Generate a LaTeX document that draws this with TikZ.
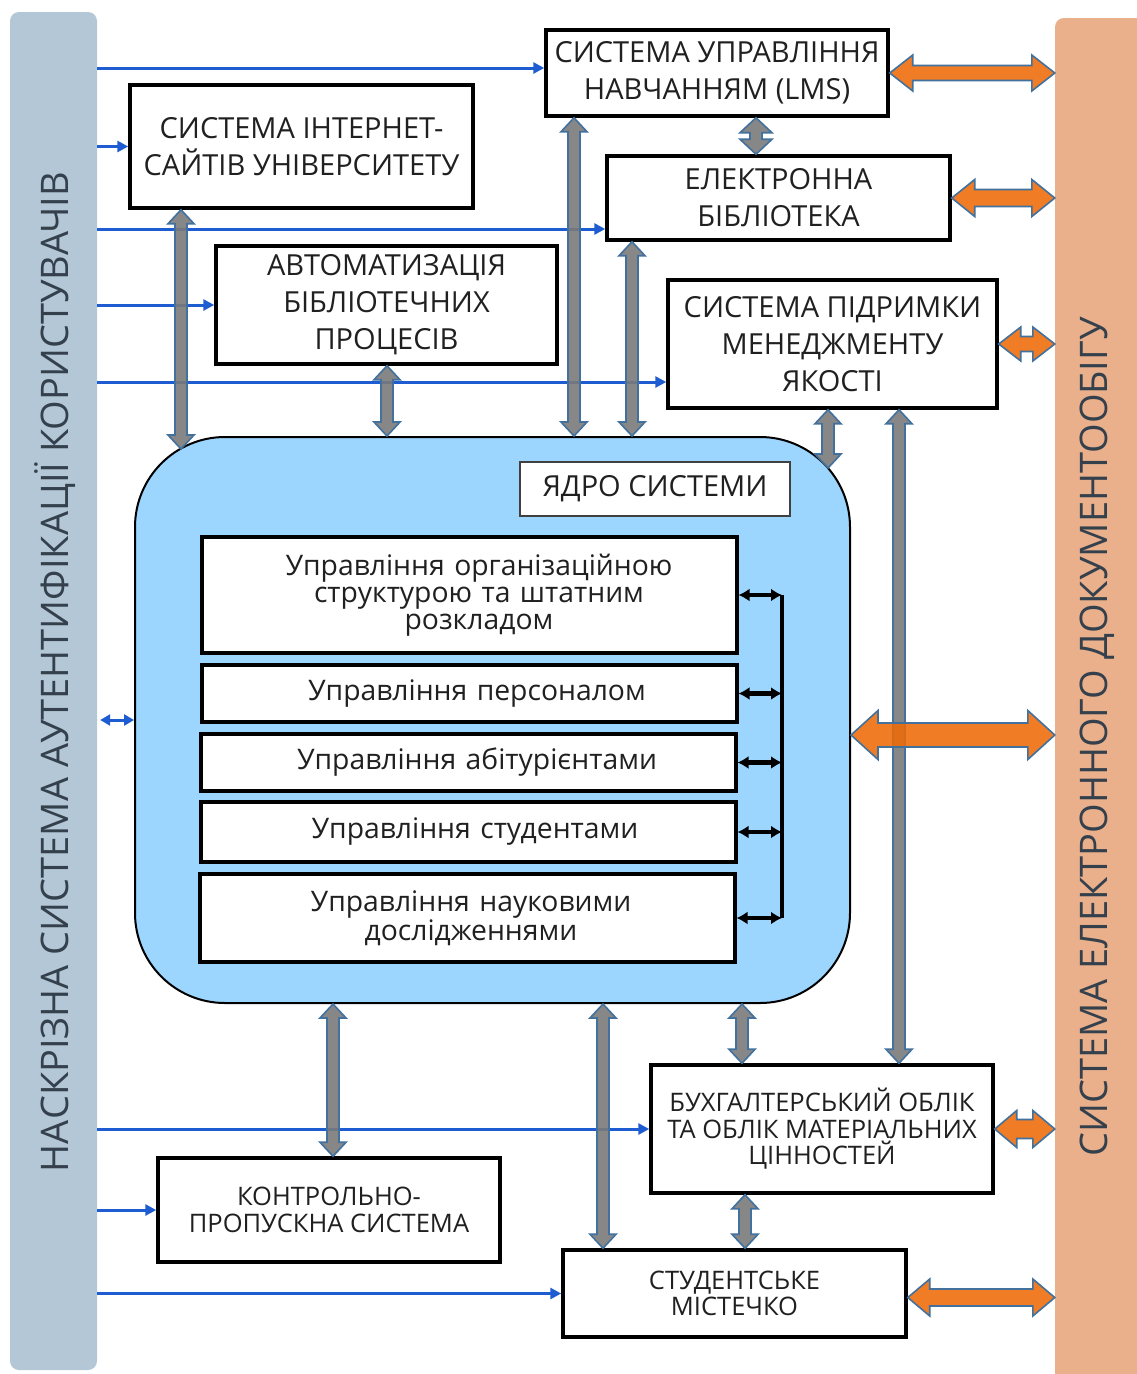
\documentclass[tikz,border=0pt]{standalone}
\usepackage{fontspec}
\setmainfont{Open Sans}
\usetikzlibrary{arrows.meta,calc}

\definecolor{authbar}{HTML}{B4C7D6}
\definecolor{docbar}{HTML}{E9B08B}
\definecolor{corefill}{HTML}{9CD5FD}
\definecolor{linkblue}{HTML}{1E5CD2}
\definecolor{blockgray}{HTML}{7A7A7A}
\definecolor{blockedge}{HTML}{41719C}
\definecolor{blockorange}{HTML}{EE6A08}
\definecolor{bartext}{HTML}{34404C}
\definecolor{boxtext}{HTML}{202020}

% vertical block double arrow: [style]{top point}{bottom point}{shaft half}{head half}{head length}
\newcommand\vblock[6][]{%
  \path[#1] let \p1=(#2), \p2=(#3) in
    (\x1,\y1) -- (\x1+#5,\y1-#6) -- (\x1+#4,\y1-#6) -- (\x1+#4,\y2+#6)
    -- (\x1+#5,\y2+#6) -- (\x1,\y2) -- (\x1-#5,\y2+#6) -- (\x1-#4,\y2+#6)
    -- (\x1-#4,\y1-#6) -- (\x1-#5,\y1-#6) -- cycle;}
% horizontal block double arrow: [style]{left point}{right point}{shaft half}{head half}{head length}
\newcommand\hblock[6][]{%
  \path[#1] let \p1=(#2), \p2=(#3) in
    (\x1,\y1) -- (\x1+#6,\y1+#5) -- (\x1+#6,\y1+#4) -- (\x2-#6,\y1+#4)
    -- (\x2-#6,\y1+#5) -- (\x2,\y1) -- (\x2-#6,\y1-#5) -- (\x2-#6,\y1-#4)
    -- (\x1+#6,\y1-#4) -- (\x1+#6,\y1-#5) -- cycle;}

\begin{document}
\begin{tikzpicture}[x=1pt,y=-1pt,
  sidebar/.style={rounded corners=9pt, inner sep=0pt},
  barlabel/.style={rotate=90, text=bartext, font=\fontsize{38}{44}\selectfont},
  box/.style={draw=black, line width=3.5pt, fill=white, align=center, inner sep=0pt, text=boxtext},
  capsA/.style={font=\fontsize{29}{37}\selectfont},
  capsB/.style={font=\fontsize{25.5}{26.5}\selectfont},
  modtext/.style={font=\fontsize{28.3}{27}\selectfont},
  modbox/.style={box, line width=4pt, minimum width=535, text width=520},
  nudge/.style={execute at begin node={\leftskip=#1 plus 1fil\rightskip=0pt plus 1fil\parfillskip=0pt}},
  link/.style={draw=linkblue, line width=3pt, -{Triangle[length=11pt,width=11pt]}},
  linkboth/.style={draw=linkblue, line width=3pt, {Triangle[length=10pt,width=11pt]}-{Triangle[length=10pt,width=11pt]}},
  bus/.style={draw=black, line width=4.5pt},
  busarrow/.style={draw=black, line width=4.5pt, {Latex[length=11pt,width=13pt]}-{Latex[length=11pt,width=13pt]}},
  grayblock/.style={fill=blockgray, fill opacity=0.9, draw=blockedge, draw opacity=1, line width=1.6pt},
  orangeblock/.style={fill=blockorange, fill opacity=0.88, draw=blockedge, line width=1.6pt},
]
\useasboundingbox (0,0) rectangle (1137,1374);
\fill[white] (0,0) rectangle (1137,1374);

% side bars
\node[sidebar, fill=authbar, minimum width=87, minimum height=1358] (auth) at (53.5,691) {};
\node[barlabel] (authlabel) at (55,672) {НАСКРІЗНА СИСТЕМА АУТЕНТИФІКАЦІЇ КОРИСТУВАЧІВ};
\node[sidebar, fill=docbar, minimum width=92, minimum height=1370] (docs) at (1101,703) {};
\node[barlabel] (docslabel) at (1097,737) {СИСТЕМА ЕЛЕКТРОННОГО ДОКУМЕНТООБІГУ};

% system core
\node[draw=black, line width=2pt, fill=corefill, rounded corners=90pt,
      minimum width=715, minimum height=566, inner sep=0pt] (core) at (492.5,720) {};
\node[box, line width=2pt, draw=black!75, capsA, minimum width=270, minimum height=54] (yadro) at (655,489) {ЯДРО СИСТЕМИ};

\node[modbox, modtext, nudge=20pt, minimum height=116] (org)  at (469,595)   {Управління організаційною\\структурою та штатним\\розкладом};
\node[modbox, modtext, nudge=16pt, minimum height=57]  (pers) at (469,693.5) {Управління персоналом};
\node[modbox, modtext, nudge=18pt, minimum height=57]  (abit) at (468,762.5) {Управління абітурієнтами};
\node[modbox, modtext, nudge=14pt, minimum height=60]  (stud) at (468,832)   {Управління студентами};
\node[modbox, modtext, nudge=8pt,  minimum height=88]  (nauk) at (467,918)   {Управління науковими\\дослідженнями};

% bus joining the core modules
\coordinate (busx) at (782,0);
\draw[bus] (org.east -| busx) -- (nauk.east -| busx);
\foreach \m in {org,pers,abit,stud,nauk}
  \draw[busarrow] (\m.east) -- (\m.east -| busx);

% subsystems
\node[box, capsA, minimum width=342, minimum height=86]  (lms)  at (717,73)    {СИСТЕМА УПРАВЛІННЯ\\НАВЧАННЯМ (LMS)};
\node[box, capsA, minimum width=343, minimum height=123] (inet) at (301.5,146.5) {СИСТЕМА ІНТЕРНЕТ-\\САЙТІВ УНІВЕРСИТЕТУ};
\node[box, capsA, minimum width=343, minimum height=84]  (elib) at (778.5,198) {ЕЛЕКТРОННА\\БІБЛІОТЕКА};
\node[box, capsA, minimum width=341, minimum height=118] (avt)  at (386.5,305) {АВТОМАТИЗАЦІЯ\\БІБЛІОТЕЧНИХ\\ПРОЦЕСІВ};
\node[box, capsA, minimum width=329, minimum height=128] (qual) at (832.5,344) {СИСТЕМА ПІДРИМКИ\\МЕНЕДЖМЕНТУ\\ЯКОСТІ};
\node[box, capsB, minimum width=342, minimum height=128] (buh)  at (822,1129)  {БУХГАЛТЕРСЬКИЙ ОБЛІК\\ТА ОБЛІК МАТЕРІАЛЬНИХ\\ЦІННОСТЕЙ};
\node[box, capsB, minimum width=342, minimum height=104] (kpp)  at (329,1210)  {КОНТРОЛЬНО-\\ПРОПУСКНА СИСТЕМА};
\node[box, capsB, minimum width=343, minimum height=87]  (mist) at (734.5,1293.5) {СТУДЕНТСЬКЕ\\МІСТЕЧКО};

% user access links
\coordinate (lmsIn)  at ([yshift=5pt]lms.west);
\coordinate (elibIn) at ([yshift=-31pt]elib.west);
\coordinate (qualIn) at ([yshift=-38pt]qual.west);
\draw[link] (lmsIn -| auth.east) -- (lmsIn);
\draw[link] (inet.west -| auth.east) -- (inet.west);
\draw[link] (elibIn -| auth.east) -- (elibIn);
\draw[link] (avt.west -| auth.east) -- (avt.west);
\draw[link] (qualIn -| auth.east) -- (qualIn);
\draw[link] (buh.west -| auth.east) -- (buh.west);
\draw[link] (kpp.west -| auth.east) -- (kpp.west);
\draw[link] (mist.west -| auth.east) -- (mist.west);
\draw[linkboth] ([xshift=3pt]core.west -| auth.east) -- (core.west);

% data exchange with the core
\coordinate (coreTL) at (181,449);
\coordinate (coreTR) at (828,468);
\vblock[grayblock]{181,0 |- inet.south}{coreTL}{6pt}{13pt}{14pt}
\vblock[grayblock]{387,0 |- avt.south}{387,0 |- core.north}{6pt}{13pt}{14pt}
\vblock[grayblock]{574,0 |- lms.south}{574,0 |- core.north}{6pt}{13pt}{14pt}
\vblock[grayblock]{632,0 |- elib.south}{632,0 |- core.north}{6pt}{13pt}{14pt}
\vblock[grayblock]{756,0 |- lms.south}{756,0 |- elib.north}{6pt}{16pt}{15pt}
\vblock[grayblock]{828,0 |- qual.south}{coreTR}{6pt}{13pt}{14pt}
\vblock[grayblock]{899,0 |- qual.south}{899,0 |- buh.north}{6pt}{13pt}{14pt}
\vblock[grayblock]{333,0 |- core.south}{333,0 |- kpp.north}{6pt}{13pt}{14pt}
\vblock[grayblock]{603,0 |- core.south}{603,0 |- mist.north}{6pt}{13pt}{14pt}
\vblock[grayblock]{742,0 |- core.south}{742,0 |- buh.north}{6pt}{13pt}{14pt}
\vblock[grayblock]{745,0 |- buh.south}{745,0 |- mist.north}{6pt}{13pt}{14pt}

% document flow exchange
\coordinate (coreR) at ([yshift=-15pt]core.east);
\coordinate (mistR) at ([yshift=-4pt]mist.east);
\hblock[orangeblock]{lms.east}{lms.east -| docs.west}{7.5pt}{18pt}{23pt}
\hblock[orangeblock]{elib.east}{elib.east -| docs.west}{8.5pt}{18.5pt}{23pt}
\hblock[orangeblock]{qual.east}{qual.east -| docs.west}{7.5pt}{17pt}{22pt}
\hblock[orangeblock]{coreR}{coreR -| docs.west}{12pt}{24.5pt}{27pt}
\hblock[orangeblock]{buh.east}{buh.east -| docs.west}{9.5pt}{18.5pt}{22pt}
\hblock[orangeblock]{mistR}{mistR -| docs.west}{8.5pt}{18.5pt}{22pt}
\end{tikzpicture}
\end{document}
